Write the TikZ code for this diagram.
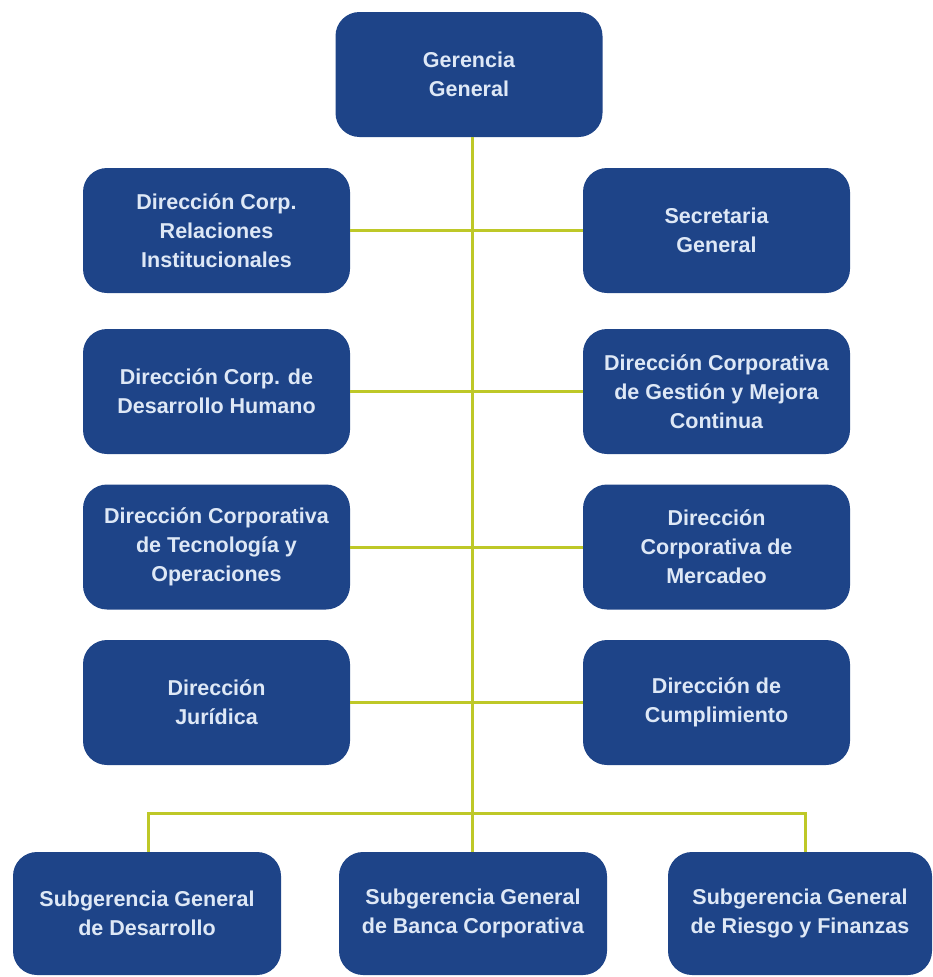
\documentclass[tikz,border=0pt]{standalone}
\usepackage{fontspec}
\setmainfont{Liberation Sans}
\definecolor{boxblue}{RGB}{30,68,136}
\definecolor{txtcol}{RGB}{222,232,246}
\definecolor{linecol}{RGB}{190,200,40}
\begin{document}
\begin{tikzpicture}[x=1pt,y=-1pt,
  unit/.style={draw=none,fill=boxblue,rounded corners=24pt,minimum width=267pt,minimum height=125pt,
    text=txtcol,font=\bfseries\fontsize{21.5}{29}\selectfont,align=center,inner sep=2pt},
  conn/.style={draw=linecol,line width=3pt}]
\useasboundingbox (0,0) rectangle (932,977);
\node[unit] (gg) at (469,74.5) {Gerencia\\General};
\node[unit] (l1) at (216.5,230.5) {Dirección Corp.\\Relaciones\\Institucionales};
\node[unit] (r1) at (716.5,230.5) {Secretaria\\General};
\node[unit] (l2) at (216.5,391.5) {Dirección Corp. de\\Desarrollo Humano};
\node[unit] (r2) at (716.5,391.5) {Dirección Corporativa\\de Gestión y Mejora\\Continua};
\node[unit] (l3) at (216.5,547) {Dirección Corporativa\\de Tecnología y\\Operaciones};
\node[unit] (r3) at (716.5,547) {Dirección\\Corporativa de\\Mercadeo};
\node[unit] (l4) at (216.5,702.5) {Dirección\\Jurídica};
\node[unit] (r4) at (716.5,702.5) {Dirección de\\Cumplimiento};
\node[unit,minimum height=123pt,minimum width=268pt] (s1) at (147,913.5) {Subgerencia General\\de Desarrollo};
\node[unit,minimum height=123pt,minimum width=268pt] (s2) at (473,913.5) {Subgerencia General\\de Banca Corporativa};
\node[unit,minimum height=123pt,minimum width=264pt] (s3) at (800,913.5) {Subgerencia General\\de Riesgo y Finanzas};
\coordinate (bus) at (472,813);
\coordinate (gs) at (472,137);
\coordinate (s2top) at (472,852);
\coordinate (s1top) at (148,852);
\coordinate (s3top) at (805,852);
\draw[conn] (gs) -- (s2top);
\draw[conn] (l1.east) -- (r1.west);
\draw[conn] (l2.east) -- (r2.west);
\draw[conn] (l3.east) -- (r3.west);
\draw[conn] (l4.east) -- (r4.west);
\draw[conn] (s1top) |- (bus) -| (s3top);
\end{tikzpicture}
\end{document}
